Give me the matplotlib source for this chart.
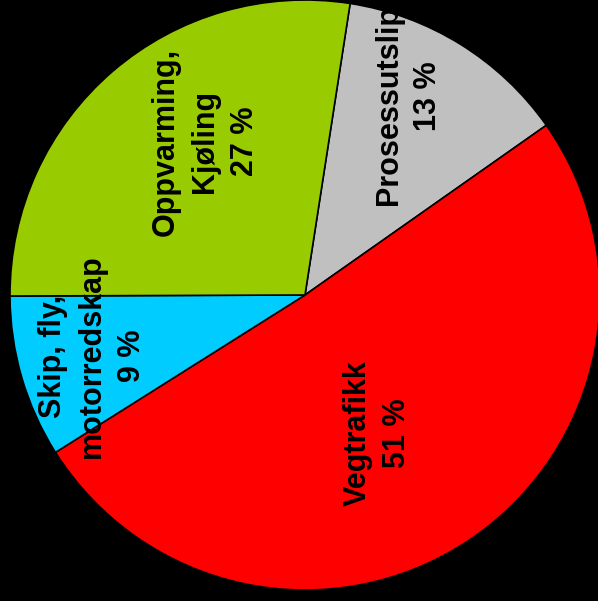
import matplotlib

matplotlib.use("Agg")
import matplotlib.pyplot as plt
import numpy as np

# data, clockwise from the top
categories = ["Prosessutslipp", "Vegtrafikk", "Skip, fly,\nmotorredskap", "Oppvarming,\nKjøling"]
shares = [12.8, 50.8, 8.9, 27.5]
pct_labels = [13, 51, 9, 27]
colors = ["#C0C0C0", "#FF0000", "#00CCFF", "#99CC00"]

# label centre as (distance from centre, angle in degrees)
label_pos = [(0.76, 62.6), (0.53, -62.4), (0.75, 196.0), (0.62, 123.0)]

plt.rcParams["font.family"] = ["Liberation Sans", "DejaVu Sans"]

fig = plt.figure(figsize=(5.98, 6.01), dpi=100, facecolor="black")
ax = fig.add_axes([10 / 598, 11 / 601, 590 / 598, 590 / 601])
ax.set_facecolor("black")

wedges, _ = ax.pie(
    shares,
    colors=colors,
    startangle=81.2,
    counterclock=False,
    radius=1.0,
    wedgeprops=dict(edgecolor="black", linewidth=1.2),
)

for name, pct, (r, ang) in zip(categories, pct_labels, label_pos):
    a = np.deg2rad(ang)
    ax.text(
        r * np.cos(a),
        r * np.sin(a),
        "{}\n{} %".format(name, pct),
        rotation=90,
        ha="center",
        va="center",
        multialignment="center",
        fontsize=22,
        fontweight="bold",
        linespacing=1.4,
        color="black",
    )

ax.set_xlim(-1, 1)
ax.set_ylim(-1, 1)
ax.set_aspect("equal")
ax.axis("off")

fig.savefig("out.png", dpi=100, facecolor="black")
